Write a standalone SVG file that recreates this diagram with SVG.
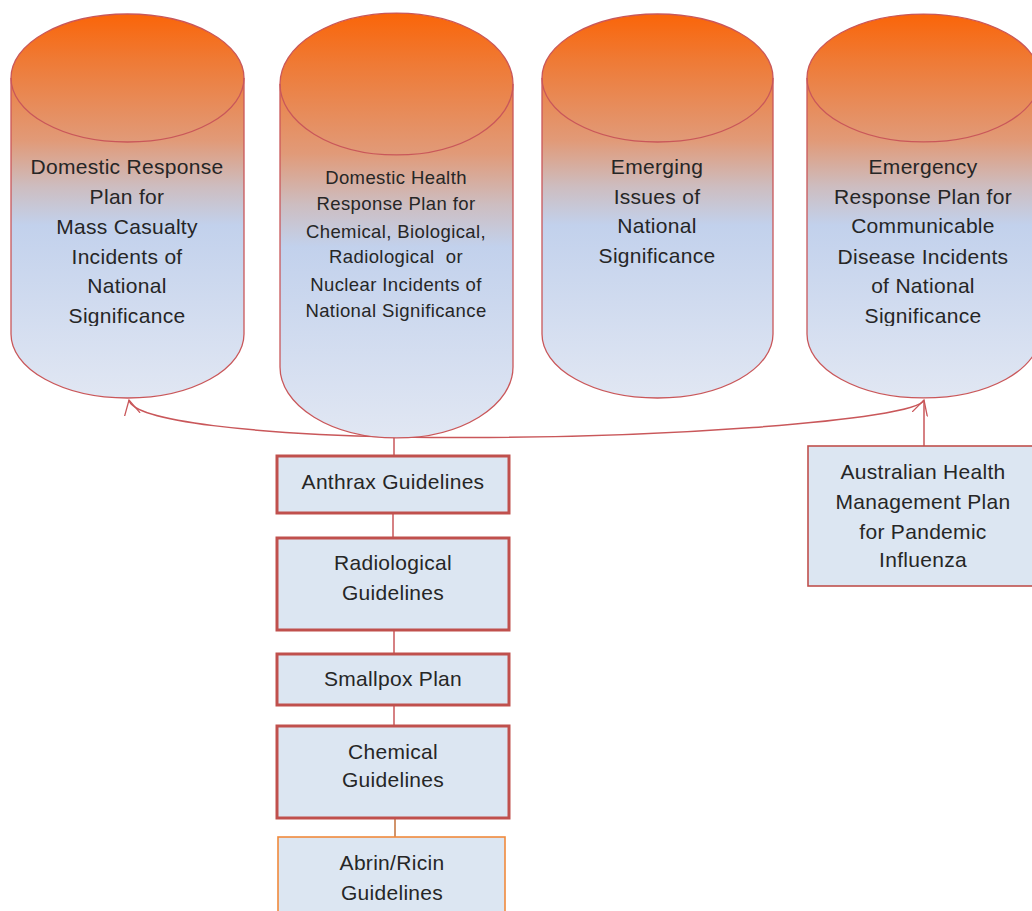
<svg xmlns="http://www.w3.org/2000/svg" width="1032" height="911" viewBox="0 0 1032 911">
<style>
.cyl{stroke:#C9575A;stroke-width:1.3;fill:url(#g)}
.rim{stroke:#C9575A;stroke-width:1.3;fill:none}
.box{fill:#DCE6F2;stroke:#C0504D;stroke-width:3}
.box2{fill:#DCE6F2;stroke:#C0504D;stroke-width:1.6}
.box3{fill:#DCE6F2;stroke:#F08A3C;stroke-width:1.6}
text{font-family:"Liberation Sans",Arial,sans-serif;fill:#262626;text-anchor:middle;font-size:21px;letter-spacing:0.3px}
.sm{font-size:18.5px;letter-spacing:0.4px}
.con{stroke:#C9575A;stroke-width:1.5;fill:none}
</style>
<defs>
<linearGradient id="g" x1="0" y1="0" x2="0" y2="1">
<stop offset="0" stop-color="#FA6509"/>
<stop offset="0.12" stop-color="#EF7A35"/>
<stop offset="0.33" stop-color="#E19A78"/>
<stop offset="0.45" stop-color="#CDBDC0"/>
<stop offset="0.55" stop-color="#C2D1EC"/>
<stop offset="1" stop-color="#E1E7F3"/>
</linearGradient>
<marker id="arr" markerUnits="userSpaceOnUse" markerWidth="20" markerHeight="20" refX="15" refY="8" orient="auto">
<path d="M0,0 L15,8 L0,16" fill="none" stroke="#C9575A" stroke-width="1.3"/>
</marker>
<clipPath id="clip1"><rect x="0" y="0" width="1032" height="326"/></clipPath>
</defs>

<g id="connectors">
<path class="con" d="M396,437 C260,434 134,422 129,400" marker-end="url(#arr)"/>
<path class="con" d="M396,437 C650,441 918,420 924,400" marker-end="url(#arr)"/>
<line class="con" x1="924" y1="446" x2="924" y2="401"/>
<line class="con" x1="394" y1="437" x2="394" y2="456"/>
<line class="con" x1="393" y1="513" x2="393" y2="538"/>
<line class="con" x1="394" y1="630" x2="394" y2="654"/>
<line class="con" x1="394" y1="705" x2="394" y2="726"/>
<line x1="395" y1="810" x2="395" y2="837" stroke="#C2703A" stroke-width="1.5"/>
</g>

<g id="cyl1">
<path class="cyl" d="M11,78 A116.5,64 0 0 1 244,78 L244,334 A116.5,64 0 0 1 11,334 Z"/>
<path class="rim" d="M11,78 A116.5,64 0 0 0 244,78"/>
<g clip-path="url(#clip1)">
<text x="127" y="174">Domestic Response</text>
<text x="127" y="204">Plan for</text>
<text x="127" y="234">Mass Casualty</text>
<text x="127" y="264">Incidents of</text>
<text x="127" y="293">National</text>
<text x="127" y="323">Significance</text>
</g>
</g>

<g id="cyl2">
<path class="cyl" d="M280,84 A116.5,71 0 0 1 513,84 L513,367 A116.5,71 0 0 1 280,367 Z"/>
<path class="rim" d="M280,84 A116.5,71 0 0 0 513,84"/>
<text class="sm" x="396" y="184">Domestic Health</text>
<text class="sm" x="396" y="210">Response Plan for</text>
<text class="sm" x="396" y="238">Chemical, Biological,</text>
<text class="sm" x="396" y="263">Radiological&#160; or</text>
<text class="sm" x="396" y="291">Nuclear Incidents of</text>
<text class="sm" x="396" y="317">National Significance</text>
</g>

<g id="cyl3">
<path class="cyl" d="M542,78 A115.5,64 0 0 1 773,78 L773,334 A115.5,64 0 0 1 542,334 Z"/>
<path class="rim" d="M542,78 A115.5,64 0 0 0 773,78"/>
<text x="657" y="174">Emerging</text>
<text x="657" y="204">Issues of</text>
<text x="657" y="233">National</text>
<text x="657" y="263">Significance</text>
</g>

<g id="cyl4">
<path class="cyl" d="M807,78 A116.5,64 0 0 1 1040,78 L1040,334 A116.5,64 0 0 1 807,334 Z"/>
<path class="rim" d="M807,78 A116.5,64 0 0 0 1040,78"/>
<g clip-path="url(#clip1)">
<text x="923" y="174">Emergency</text>
<text x="923" y="204">Response Plan for</text>
<text x="923" y="233">Communicable</text>
<text x="923" y="264">Disease Incidents</text>
<text x="923" y="293">of National</text>
<text x="923" y="323">Significance</text>
</g>
</g>

<g id="anthrax">
<rect class="box" x="277" y="456" width="232" height="57"/>
<text x="393" y="489">Anthrax Guidelines</text>
</g>

<g id="radiological">
<rect class="box" x="277" y="538" width="232" height="92"/>
<text x="393" y="570">Radiological</text>
<text x="393" y="600">Guidelines</text>
</g>

<g id="smallpox">
<rect class="box" x="277" y="654" width="232" height="51"/>
<text x="393" y="686">Smallpox Plan</text>
</g>

<g id="chemical">
<rect class="box" x="277" y="726" width="232" height="92"/>
<text x="393" y="759">Chemical</text>
<text x="393" y="787">Guidelines</text>
</g>

<g id="abrin">
<rect class="box3" x="278" y="837" width="227" height="90"/>
<text x="392" y="870">Abrin/Ricin</text>
<text x="392" y="900">Guidelines</text>
</g>

<g id="australian">
<rect class="box2" x="808" y="446" width="240" height="140"/>
<text x="923" y="479">Australian Health</text>
<text x="923" y="509">Management Plan</text>
<text x="923" y="539">for Pandemic</text>
<text x="923" y="567">Influenza</text>
</g>
</svg>
